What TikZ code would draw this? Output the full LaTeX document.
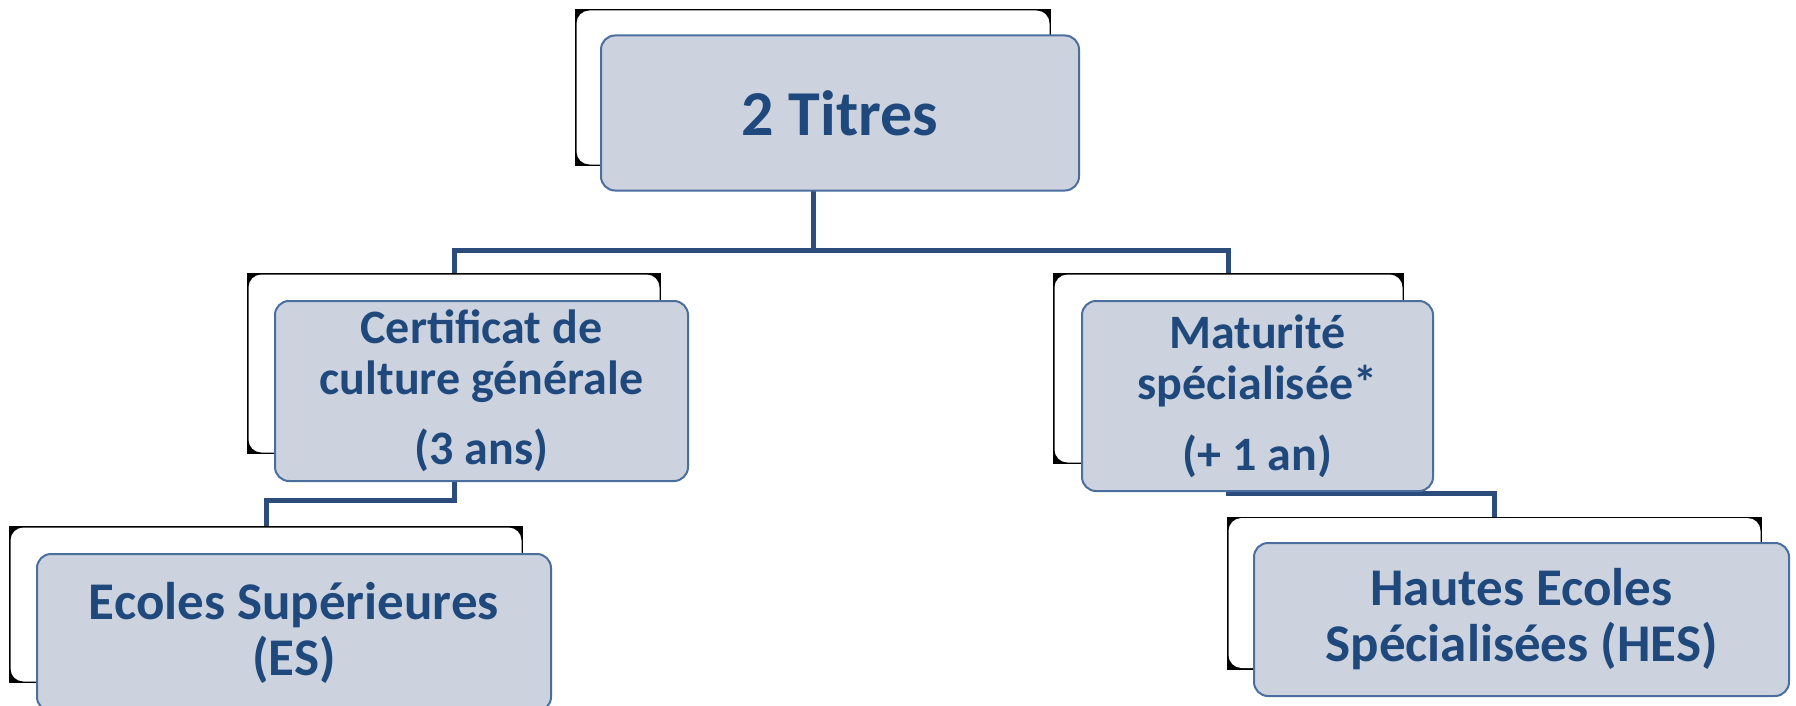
\documentclass[tikz,border=0pt]{standalone}
\usepackage{fontspec}
\setmainfont{Carlito}
\usetikzlibrary{calc}
\definecolor{textblue}{HTML}{1F497D}
\definecolor{linkblue}{HTML}{2C4D7B}
\definecolor{boxfill}{HTML}{CDD3DE}
\definecolor{boxborder}{HTML}{4A6E9E}
\tikzset{
  backbox/.style={fill=black, inner sep=0pt, outer sep=0pt},
  frontbox/.style={fill=boxfill, draw=boxborder, line width=2pt, rounded corners=14pt,
    inner sep=0pt, text=textblue, align=center},
  link/.style={draw=linkblue, line width=5pt},
}
\newcommand{\whiteback}[1]{%
  \fill[white, rounded corners=13pt] ($(#1.north west)+(1.5,1.5)$) rectangle ($(#1.south east)+(-1.5,-1.5)$);}
\begin{document}
\begin{tikzpicture}[x=1pt,y=-1pt]
\useasboundingbox (0,0) rectangle (1796,706);
% back boxes
\node[backbox, minimum width=476pt, minimum height=157pt] (topB) at (813,87.5) {};
\whiteback{topB}
\node[backbox, minimum width=414pt, minimum height=181pt] (certB) at (454,363.5) {};
\whiteback{certB}
\node[backbox, minimum width=351pt, minimum height=191pt] (matB) at (1228.5,368.5) {};
\whiteback{matB}
\node[backbox, minimum width=514pt, minimum height=157pt] (esB) at (266,604.5) {};
\whiteback{esB}
\node[backbox, minimum width=535pt, minimum height=153pt] (hesB) at (1494.5,593) {};
\whiteback{hesB}
% connectors
\draw[link] (topB.south) -- ++(0,84) -| (certB.north);
\draw[link] (topB.south) -- ++(0,84) -| (matB.north);
\draw[link] (certB.south) -- ++(0,46) -| (esB.north);
\draw[link] (matB.south) -- ++(0,29.5) -| (hesB.north);
% front boxes
\node[frontbox, minimum width=478pt, minimum height=155pt,
  font=\fontsize{64}{77}\selectfont\bfseries] (top) at (840,113) {2 Titres};
\node[frontbox, minimum width=413pt, minimum height=180pt,
  font=\fontsize{48}{51}\selectfont\bfseries] (cert) at (481.5,391)
  {Certificat de\\culture générale\\[19pt](3 ans)};
\node[frontbox, minimum width=351pt, minimum height=190pt,
  font=\fontsize{48}{51}\selectfont\bfseries] (mat) at (1257.5,396)
  {Maturité\\spécialisée*\\[20pt](+ 1 an)};
\node[frontbox, minimum width=514pt, minimum height=157pt,
  font=\fontsize{53}{56}\selectfont\bfseries] (es) at (294,632.5)
  {Ecoles Supérieures\\(ES)};
\node[frontbox, minimum width=535pt, minimum height=153pt,
  font=\fontsize{53}{56}\selectfont\bfseries] (hes) at (1521.5,619.5)
  {Hautes Ecoles\\Spécialisées (HES)};
\end{tikzpicture}
\end{document}
